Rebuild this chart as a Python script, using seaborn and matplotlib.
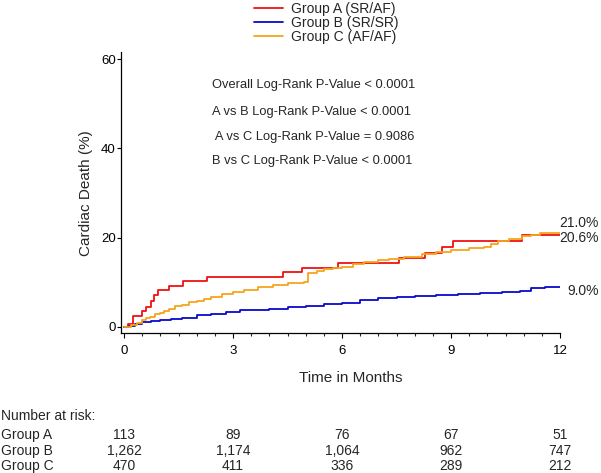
import pandas as pd
import numpy as np
import matplotlib
matplotlib.use("Agg")
import matplotlib.pyplot as plt
import matplotlib.transforms as mtransforms
from matplotlib.ticker import MultipleLocator
import seaborn as sns

# cumulative incidence (months, % cardiac death)
a_time = [0, 0.12, 0.26, 0.49, 0.61, 0.73, 0.83, 0.94, 1.25, 1.63, 2.28, 4.37, 4.89,
          5.90, 7.58, 8.28, 8.74, 9.06, 10.95, 12.0]
a_death = [0, 0.7, 2.4, 3.6, 4.5, 5.9, 7.1, 8.2, 9.1, 10.3, 11.2, 12.3, 13.2,
           14.4, 15.5, 16.5, 18.0, 19.2, 20.6, 20.6]

b_time = [0, 0.15, 0.3, 0.5, 0.75, 1.0, 1.3, 1.6, 2.0, 2.4, 2.8, 3.2, 3.6, 4.0, 4.5,
          5.0, 5.5, 6.0, 6.5, 7.0, 7.5, 8.0, 8.6, 9.2, 9.8, 10.4, 10.9, 11.2, 11.6, 12.0]
b_death = [0, 0.3, 0.7, 1.1, 1.3, 1.5, 1.8, 2.1, 2.6, 3.0, 3.3, 3.7, 3.9, 4.1, 4.4,
           4.8, 5.2, 5.4, 6.0, 6.4, 6.7, 7.0, 7.2, 7.4, 7.6, 7.9, 8.1, 8.7, 8.9, 9.0]

c_time = [0, 0.2, 0.35, 0.5, 0.6, 0.72, 0.85, 1.0, 1.1, 1.25, 1.4, 1.6, 1.8, 2.0, 2.2,
          2.4, 2.7, 3.0, 3.3, 3.7, 4.1, 4.5, 4.95, 5.05, 5.3, 5.5, 5.75, 6.0, 6.3, 6.6,
          7.0, 7.3, 7.7, 8.2, 8.6, 9.0, 9.5, 9.9, 10.1, 10.3, 10.6, 10.95, 11.2, 11.45, 12.0]
c_death = [0, 0.4, 1.0, 1.6, 2.0, 2.3, 2.8, 3.2, 3.6, 4.1, 4.6, 5.0, 5.5, 5.9, 6.3,
           6.7, 7.3, 7.9, 8.3, 8.9, 9.5, 9.9, 10.1, 12.0, 12.6, 12.9, 13.3, 13.5, 14.2, 14.6,
           14.9, 15.3, 15.6, 16.3, 16.8, 17.2, 17.6, 17.9, 18.6, 19.2, 19.8, 20.4, 20.7, 21.0, 21.0]

groups = ["Group A (SR/AF)", "Group B (SR/SR)", "Group C (AF/AF)"]
colors = ["#ee1111", "#0a0acc", "#f7a41c"]
end_labels = ["20.6%", "9.0%", "21.0%"]

pvalues = ["Overall Log-Rank P-Value < 0.0001",
           "A vs B Log-Rank P-Value < 0.0001",
           " A vs C Log-Rank P-Value = 0.9086",
           "B vs C Log-Rank P-Value < 0.0001"]

risk_months = [0, 3, 6, 9, 12]
risk_names = ["Group A", "Group B", "Group C"]
risk_a = ["113", "89", "76", "67", "51"]
risk_b = ["1,262", "1,174", "1,064", "962", "747"]
risk_c = ["470", "411", "336", "289", "212"]

df = pd.concat([
    pd.DataFrame({"Month": a_time, "Death": a_death, "Group": groups[0]}),
    pd.DataFrame({"Month": b_time, "Death": b_death, "Group": groups[1]}),
    pd.DataFrame({"Month": c_time, "Death": c_death, "Group": groups[2]}),
], ignore_index=True)

sns.set_theme(style="ticks")
plt.rcParams["font.family"] = ["Liberation Sans", "DejaVu Sans"]

W, H = 601, 473
fig = plt.figure(figsize=(W / 100, H / 100), dpi=100)
ax = fig.add_axes([121.5 / W, 1 - 333 / H, 438.5 / W, 280.5 / H])

sns.lineplot(data=df, x="Month", y="Death", hue="Group", hue_order=groups,
             palette=colors, estimator=None, sort=False, drawstyle="steps-post",
             linewidth=1.3, ax=ax)

ax.set_xlim(-0.07, 12.0)
ax.set_ylim(-1.35, 61.5)
ax.set_xticks([0, 3, 6, 9, 12])
ax.xaxis.set_minor_locator(MultipleLocator(0.5))
ax.set_yticks([0, 20, 40, 60])
sns.despine(ax=ax)
for s in ["left", "bottom"]:
    ax.spines[s].set_linewidth(0.9)
    ax.spines[s].set_color("black")
ax.tick_params(axis="x", which="major", length=3.8, width=0.8, pad=5, labelsize=9.5, colors="black")
ax.tick_params(axis="x", which="minor", length=2.2, width=0.8)
ax.tick_params(axis="y", which="major", length=2.6, width=0.8, pad=1.5, labelsize=9.5, colors="black")

ax.set_xlabel("Time in Months", fontsize=11)
ax.set_ylabel("Cardiac Death (%)", fontsize=11)
ax.xaxis.label.set_va("center")
ax.yaxis.label.set_va("center")
ax.xaxis.set_label_coords(0.523, -0.160)
ax.yaxis.set_label_coords(-0.081, 0.5)

handles, labels = ax.get_legend_handles_labels()
ax.legend(handles, labels, loc="upper left", bbox_to_anchor=(254 / W, 1 - 1.5 / H),
          bbox_transform=fig.transFigure, frameon=False, fontsize=10,
          borderpad=0, borderaxespad=0, handlelength=2.1, handletextpad=0.55,
          labelspacing=0.02)

for txt, y in zip(pvalues, [85, 112, 137, 161]):
    fig.text(212 / W, 1 - y / H, txt, fontsize=9.3, va="center", ha="left")

for txt, y in zip(end_labels, [238, 291, 223]):
    fig.text(599 / W, 1 - y / H, txt, fontsize=10, va="center", ha="right")

fig.text(1 / W, 1 - 416 / H, "Number at risk:", fontsize=10, va="center", ha="left")
blend = mtransforms.blended_transform_factory(ax.transData, fig.transFigure)
for name, row, y in zip(risk_names, [risk_a, risk_b, risk_c], [435, 451, 466]):
    fig.text(1 / W, 1 - y / H, name, fontsize=10, va="center", ha="left")
    for m, v in zip(risk_months, row):
        ax.text(m, 1 - y / H, v, transform=blend, fontsize=10, va="center",
                ha="center", clip_on=False)

fig.savefig("out.png", dpi=100)
